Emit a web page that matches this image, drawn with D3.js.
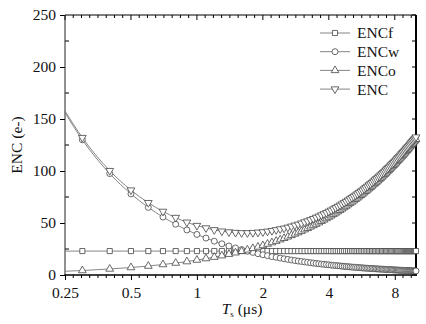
<!DOCTYPE html>
<html><head><meta charset="utf-8">
<script src="https://cdn.jsdelivr.net/npm/d3@7"></script>
<style>body{margin:0;background:#fff}svg{display:block}text{font-family:"Liberation Serif","Times New Roman",serif;fill:#111}</style>
</head><body>
<script>
const Ts = [0.25,0.3,0.4,0.5,0.6,0.7,0.8,0.9,1.0,1.1,1.2,1.3,1.4,1.5,1.6,1.7,1.8,1.9,2.0,2.1,2.2,2.3,2.4,2.5,2.6,2.7,2.8,2.9,3.0,3.1,3.2,3.3,3.4,3.5,3.6,3.7,3.8,3.9,4.0,4.1,4.2,4.3,4.4,4.5,4.6,4.7,4.8,4.9,5.0,5.1,5.2,5.3,5.4,5.5,5.6,5.7,5.8,5.9,6.0,6.1,6.2,6.3,6.4,6.5,6.6,6.7,6.8,6.9,7.0,7.1,7.2,7.3,7.4,7.5,7.6,7.7,7.8,7.9,8.0,8.1,8.2,8.3,8.4,8.5,8.6,8.7,8.8,8.9,9.0,9.1,9.2,9.3,9.4,9.5,9.6,9.7,9.8,9.9,10.0];
const ENCf = [23,23,23,23,23,23,23,23,23,23,23,23,23,23,23,23,23,23,23,23,23,23,23,23,23,23,23,23,23,23,23,23,23,23,23,23,23,23,23,23,23,23,23,23,23,23,23,23,23,23,23,23,23,23,23,23,23,23,23,23,23,23,23,23,23,23,23,23,23,23,23,23,23,23,23,23,23,23,23,23,23,23,23,23,23,23,23,23,23,23,23,23,23,23,23,23,23,23,23];
const ENCw = [156,130,97.5,78,65,55.7,48.8,43.3,39,35.5,32.5,30,27.9,26,24.4,22.9,21.7,20.5,19.5,18.6,17.7,17,16.3,15.6,15,14.4,13.9,13.4,13,12.6,12.2,11.8,11.5,11.1,10.8,10.5,10.3,10,9.8,9.5,9.3,9.1,8.9,8.7,8.5,8.3,8.1,8,7.8,7.6,7.5,7.4,7.2,7.1,7,6.8,6.7,6.6,6.5,6.4,6.3,6.2,6.1,6,5.9,5.8,5.7,5.7,5.6,5.5,5.4,5.3,5.3,5.2,5.1,5.1,5,4.9,4.9,4.8,4.8,4.7,4.6,4.6,4.5,4.5,4.4,4.4,4.3,4.3,4.2,4.2,4.1,4.1,4.1,4,4,3.9,3.9];
const ENCo = [3.6,4.3,5.8,7.2,8.6,10.1,11.5,12.9,14.4,15.8,17.2,18.6,20,21.4,22.8,24.2,25.6,27,28.4,29.8,31.2,32.6,34,35.3,36.7,38.1,39.5,40.8,42.2,43.6,44.9,46.3,47.6,49,50.3,51.7,53,54.3,55.7,57,58.3,59.7,61,62.3,63.6,64.9,66.3,67.6,68.9,70.2,71.5,72.8,74.1,75.4,76.7,77.9,79.2,80.5,81.8,83.1,84.3,85.6,86.9,88.1,89.4,90.6,91.9,93.1,94.4,95.6,96.9,98.1,99.4,100.6,101.8,103.1,104.3,105.5,106.7,107.9,109.2,110.4,111.6,112.8,114,115.2,116.4,117.6,118.8,119.9,121.1,122.3,123.5,124.7,125.8,127,128.2,129.3,130.5];
const ENC = [157.7,132.1,100.3,81.6,69.5,61.1,55.2,50.7,47.5,45.2,43.4,42.1,41.3,40.8,40.5,40.5,40.7,41,41.4,42,42.6,43.4,44.2,44.9,45.8,46.8,47.8,48.7,49.8,50.9,51.9,53,54.1,55.3,56.4,57.6,58.7,59.8,61.1,62.2,63.4,64.6,65.8,67,68.2,69.4,70.6,71.9,73.1,74.3,75.5,76.7,77.9,79.1,80.4,81.5,82.7,84,85.2,86.5,87.6,88.8,90.1,91.3,92.5,93.7,94.9,96.1,97.3,98.5,99.7,100.9,102.2,103.3,104.5,105.8,106.9,108.1,109.3,110.4,111.7,112.9,114,115.2,116.4,117.6,118.7,119.9,121.1,122.2,123.3,124.5,125.7,126.9,128,129.1,130.3,131.4,132.6];
const seriesNames = ["ENCf","ENCw","ENCo","ENC"];
const xTickValues = [0.25,0.5,1,2,4,8];
const xTickLabels = ["0.25","0.5","1","2","4","8"];
const yTickValues = [0,50,100,150,200,250];

const W=426,H=324, L=65,R=416,T=15,B=275;
const svg=d3.select("body").append("svg").attr("width",W).attr("height",H);
const x=d3.scaleLog().base(2).domain([0.25,10]).range([L,R]);
const y=d3.scaleLinear().domain([0,250]).range([B,T]);

// minor x ticks (7 per octave, log-even)
const xMinor=[];
xTickValues.forEach(v=>{for(let k=1;k<8;k++){const m=v*Math.pow(2,k/8); if(m<10) xMinor.push(m);}});
const yMinor=[25,75,125,175,225];

const axisG=svg.append("g");
// bottom axis
const bx=svg.append("g").attr("transform",`translate(0,${B})`)
  .call(d3.axisBottom(x).tickValues(xTickValues).tickFormat((d,i)=>xTickLabels[i]).tickSize(5).tickSizeOuter(0));
bx.select(".domain").remove();
bx.selectAll("line").attr("stroke","#000");
bx.selectAll("text").attr("font-size","15.5px").attr("dy","0.95em").attr("fill","#111").style("font-family","Liberation Serif");
svg.append("g").selectAll("line").data(xMinor).join("line")
  .attr("x1",d=>x(d)).attr("x2",d=>x(d)).attr("y1",B).attr("y2",B+3).attr("stroke","#000");
// top minor/major ticks inward
svg.append("g").selectAll("line").data(xTickValues).join("line")
  .attr("x1",d=>x(d)).attr("x2",d=>x(d)).attr("y1",T).attr("y2",T+5).attr("stroke","#000");
svg.append("g").selectAll("line").data(xMinor).join("line")
  .attr("x1",d=>x(d)).attr("x2",d=>x(d)).attr("y1",T).attr("y2",T+3).attr("stroke","#000");
// left axis
const ly=svg.append("g").attr("transform",`translate(${L},0)`)
  .call(d3.axisLeft(y).tickValues(yTickValues).tickSize(5).tickSizeOuter(0).tickPadding(4));
ly.select(".domain").remove();
ly.selectAll("line").attr("stroke","#000");
ly.selectAll("text").attr("font-size","15.5px").attr("fill","#111").style("font-family","Liberation Serif");
svg.append("g").selectAll("line").data(yMinor).join("line")
  .attr("x1",L).attr("x2",L+4).attr("y1",d=>y(d)).attr("y2",d=>y(d)).attr("stroke","#000");
// right ticks inward
svg.append("g").selectAll("line").data(yTickValues.concat(yMinor)).join("line")
  .attr("x1",R-4).attr("x2",R).attr("y1",d=>y(d)).attr("y2",d=>y(d)).attr("stroke","#000");
// frame
svg.append("line").attr("x1",L).attr("x2",L).attr("y1",T).attr("y2",B).attr("stroke","#222").attr("stroke-width",1);
svg.append("line").attr("x1",L-0.5).attr("x2",R+1).attr("y1",B).attr("y2",B).attr("stroke","#000").attr("stroke-width",1.3);
svg.append("line").attr("x1",L).attr("x2",R).attr("y1",T).attr("y2",T).attr("stroke","#000").attr("stroke-width",1);
svg.append("line").attr("x1",R).attr("x2",R).attr("y1",T).attr("y2",B+0.5).attr("stroke","#000").attr("stroke-width",2);

// series
const data=[ENCf,ENCw,ENCo,ENC];
const sym=[d3.symbolSquare,d3.symbolCircle,d3.symbolTriangle,d3.symbolTriangle];
const symSize=[26,28,26,26];
const rot=[0,0,0,180];
const line=d3.line().x((d,i)=>x(Ts[i])).y(d=>y(d)).curve(d3.curveMonotoneX);
const plot=svg.append("g");
data.forEach((s,k)=>{
  plot.append("path").attr("d",line(s)).attr("fill","none").attr("stroke","#777").attr("stroke-width",0.9);
});
data.forEach((s,k)=>{
  const pts=s.map((v,i)=>({t:Ts[i],v})).filter(p=>p.t>=0.3);
  plot.append("g").selectAll("path").data(pts).join("path")
    .attr("d",d3.symbol().type(sym[k]).size(symSize[k]))
    .attr("transform",d=>`translate(${x(d.t)},${y(d.v)}) rotate(${rot[k]})`)
    .attr("fill","#fff").attr("stroke","#444").attr("stroke-width",0.8);
});

// legend
const lg=svg.append("g");
seriesNames.forEach((n,k)=>{
  const yy=33+k*18.7;
  lg.append("line").attr("x1",320).attr("x2",350).attr("y1",yy).attr("y2",yy).attr("stroke","#777").attr("stroke-width",0.9);
  lg.append("path").attr("d",d3.symbol().type(sym[k]).size(symSize[k])).attr("transform",`translate(335,${yy}) rotate(${rot[k]})`)
    .attr("fill","#fff").attr("stroke","#444").attr("stroke-width",0.8);
  lg.append("text").attr("x",357).attr("y",yy).attr("dy","0.35em").attr("font-size","15.5px").text(n);
});

// axis titles
svg.append("text").attr("transform",`translate(22,${(T+B)/2}) rotate(-90)`).attr("text-anchor","middle").attr("font-size","15.5px").text("ENC (e-)");
const xt=svg.append("text").attr("x",242).attr("y",314).attr("text-anchor","middle").attr("font-size","15.5px");
xt.append("tspan").attr("font-style","italic").text("T");
xt.append("tspan").attr("font-size","9px").attr("dy","3").text("s");
xt.append("tspan").attr("dy","-3").text(" (μs)");
</script>
</body></html>
